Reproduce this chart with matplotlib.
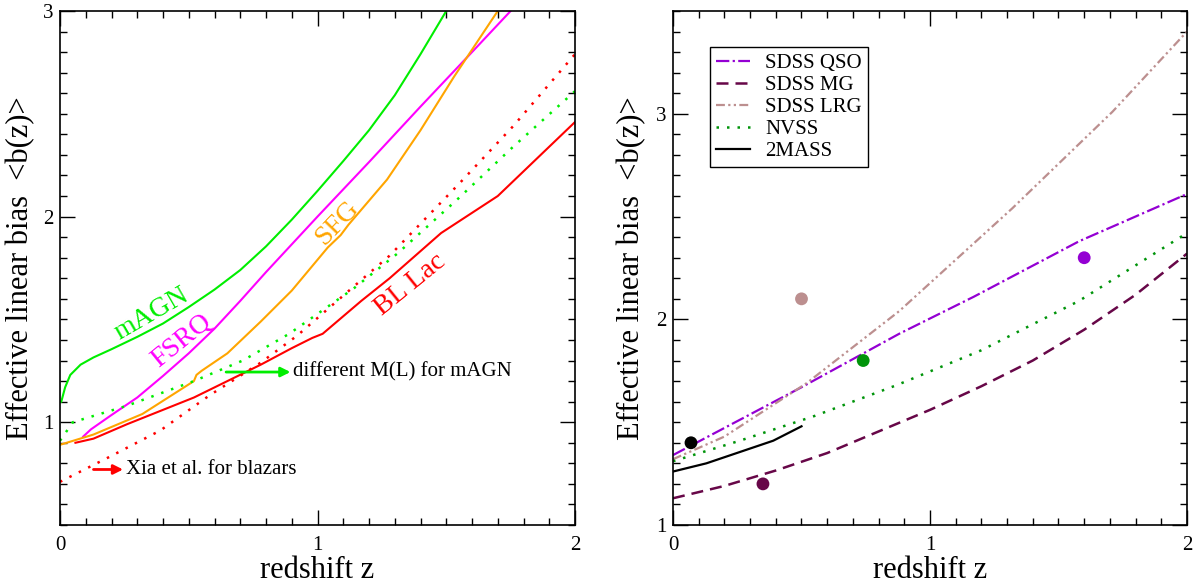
import numpy as np
import matplotlib
matplotlib.use('Agg')
import matplotlib.pyplot as plt
from matplotlib.ticker import MultipleLocator

plt.rcParams['font.family'] = ['Liberation Serif', 'DejaVu Serif']

# ---- left panel: effective bias of source populations ----
magn_z = [0.005, 0.02, 0.04, 0.08, 0.13, 0.2, 0.3, 0.4, 0.5, 0.6, 0.7, 0.8, 0.9, 1.0, 1.1, 1.2, 1.3, 1.4, 1.5]
magn_b = [1.10, 1.17, 1.23, 1.28, 1.315, 1.355, 1.415, 1.48, 1.56, 1.645, 1.74, 1.855, 1.985, 2.125, 2.27, 2.42, 2.59, 2.79, 3.0]

fsrq_z = [0.09, 0.12, 0.2, 0.3, 0.4, 0.5, 0.6, 0.7, 0.8, 0.9, 1.0, 1.2, 1.4, 1.6, 1.75]
fsrq_b = [0.93, 0.965, 1.035, 1.12, 1.225, 1.335, 1.455, 1.59, 1.73, 1.865, 2.0, 2.265, 2.535, 2.80, 3.0]

sfg_z = [0.0, 0.13, 0.32, 0.52, 0.53, 0.55, 0.65, 0.78, 0.9, 1.04, 1.09, 1.12, 1.27, 1.4, 1.53, 1.70]
sfg_b = [0.89, 0.94, 1.04, 1.2, 1.23, 1.25, 1.335, 1.49, 1.64, 1.85, 1.91, 1.96, 2.18, 2.42, 2.68, 3.0]

bllac_z = [0.06, 0.13, 0.26, 0.52, 0.78, 0.9, 0.98, 1.0, 1.02, 1.17, 1.28, 1.48, 1.70, 2.0]
bllac_b = [0.90, 0.92, 0.99, 1.12, 1.28, 1.36, 1.41, 1.42, 1.43, 1.59, 1.70, 1.92, 2.10, 2.46]

xia_z = [0.0, 0.19, 0.39, 0.58, 0.78, 0.92, 1.15, 1.28, 1.55, 1.76, 2.0]
xia_b = [0.71, 0.83, 0.96, 1.13, 1.29, 1.42, 1.67, 1.81, 2.16, 2.44, 2.79]

magn2_z = [0.0, 0.05, 0.26, 0.52, 0.71, 0.89, 1.14, 1.31, 1.54, 1.76, 2.0]
magn2_b = [0.91, 1.0, 1.08, 1.2, 1.30, 1.43, 1.65, 1.82, 2.08, 2.34, 2.61]

# ---- right panel: surveys ----
qso_z = [0.0, 0.25, 0.5, 0.88, 1.17, 1.58, 2.0]
qso_b = [1.34, 1.505, 1.67, 1.93, 2.11, 2.38, 2.61]

mg_z = [0.0, 0.2, 0.4, 0.6, 0.8, 1.0, 1.2, 1.4, 1.6, 1.8, 2.0]
mg_b = [1.13, 1.19, 1.265, 1.35, 1.455, 1.56, 1.675, 1.80, 1.95, 2.12, 2.32]

lrg_z = [0.0, 0.2, 0.52, 0.88, 1.32, 1.71, 2.0]
lrg_b = [1.32, 1.43, 1.69, 2.04, 2.54, 3.01, 3.40]

nvss_z = [0.0, 0.26, 0.55, 0.87, 1.2, 1.58, 2.0]
nvss_b = [1.31, 1.41, 1.53, 1.68, 1.85, 2.09, 2.42]

mass_z = [0.0, 0.13, 0.26, 0.39, 0.5]
mass_b = [1.26, 1.30, 1.355, 1.41, 1.48]

# measured points (z, b) for each survey
pt_names = ['2MASS', 'SDSS MG', 'SDSS LRG', 'NVSS', 'SDSS QSO']
pt_z = [0.07, 0.35, 0.50, 0.74, 1.60]
pt_b = [1.40, 1.20, 2.10, 1.80, 2.30]

c_magn = '#00ee00'
c_fsrq = '#ff00ff'
c_sfg = '#ffa500'
c_red = '#ff0000'
c_qso = '#9400d3'
c_mg = '#670748'
c_lrg = '#bc8f8f'
c_nvss = '#00940a'
pt_colors = ['black', c_mg, c_lrg, c_nvss, c_qso]

fig = plt.figure(figsize=(11.95, 5.85), dpi=100)
ax1 = fig.add_axes([60/1195, 1-525/585, 515/1195, 514/585])
ax2 = fig.add_axes([673/1195, 1-525/585, 514/1195, 514/585])

lw = 1.5
ax1.plot(magn_z, magn_b, color=c_magn, lw=lw)
ax1.plot(fsrq_z, fsrq_b, color=c_fsrq, lw=lw)
ax1.plot(sfg_z, sfg_b, color=c_sfg, lw=lw)
ax1.plot(bllac_z, bllac_b, color=c_red, lw=lw)
ax1.plot(xia_z, xia_b, color=c_red, lw=1.8, linestyle=(0, (1, 3.2)))
ax1.plot(magn2_z, magn2_b, color=c_magn, lw=1.8, linestyle=(0, (1, 3.2)))

lab = dict(fontsize=20, rotation_mode='anchor')
ax1.text(0.232, 1.402, 'mAGN', color=c_magn, rotation=30, ha='left', va='baseline', **lab)
ax1.text(0.385, 1.262, 'FSRQ', color=c_fsrq, rotation=39, ha='left', va='baseline', **lab)
ax1.text(1.077, 1.967, 'SFG', color=c_sfg, rotation=46, ha='center', va='center', **lab)
ax1.text(1.36, 1.667, 'BL Lac', color=c_red, rotation=39, ha='center', va='center', **lab)

ax1.annotate('', xy=(0.895, 1.244), xytext=(0.645, 1.244),
             arrowprops=dict(arrowstyle='-|>', color=c_magn, lw=2, mutation_scale=14, shrinkA=0, shrinkB=0))
ax1.text(0.905, 1.244, 'different M(L) for mAGN', fontsize=15, va='center')
ax1.annotate('', xy=(0.245, 0.77), xytext=(0.13, 0.77),
             arrowprops=dict(arrowstyle='-|>', color=c_red, lw=2, mutation_scale=14, shrinkA=0, shrinkB=0))
ax1.text(0.255, 0.77, 'Xia et al. for blazars', fontsize=15, va='center')

ax1.set_xlim(0, 2)
ax1.set_ylim(0.5, 3)

lw2 = 1.6
ax2.plot(qso_z, qso_b, color=c_qso, lw=lw2, linestyle=(0, (6, 1.5, 1, 1.5)), label='SDSS QSO')
ax2.plot(mg_z, mg_b, color=c_mg, lw=1.8, linestyle=(0, (4.8, 2.8)), label='SDSS MG')
ax2.plot(lrg_z, lrg_b, color=c_lrg, lw=lw2, linestyle=(0, (4, 1.5, 1, 1.5, 1, 1.5)), label='SDSS LRG')
ax2.plot(nvss_z, nvss_b, color=c_nvss, lw=1.8, linestyle=(0, (1, 3.2)), label='NVSS')
ax2.plot(mass_z, mass_b, color='black', lw=lw2, label='2MASS')
ax2.scatter(pt_z, pt_b, s=85, c=pt_colors, zorder=5, linewidths=0)

ax2.set_xlim(0, 2)
ax2.set_ylim(1, 3.5)
leg = ax2.legend(loc='upper left', bbox_to_anchor=(0.072, 0.93), borderaxespad=0,
                 fontsize=15, frameon=True, fancybox=False, framealpha=1,
                 edgecolor='black', labelspacing=0.12, handlelength=1.6,
                 handletextpad=0.75, borderpad=0.3)
leg.get_frame().set_linewidth(1.0)

for ax in (ax1, ax2):
    ax.xaxis.set_major_locator(MultipleLocator(1))
    ax.xaxis.set_minor_locator(MultipleLocator(0.1))
    ax.yaxis.set_major_locator(MultipleLocator(1))
    ax.yaxis.set_minor_locator(MultipleLocator(0.1))
    ax.tick_params(which='both', direction='in', top=True, right=True, width=1.0,
                   labelsize=15)
    ax.tick_params(which='major', length=11)
    ax.tick_params(which='minor', length=5)
    ax.tick_params(axis='x', pad=8)
    ax.tick_params(axis='y', pad=5)
    for s in ax.spines.values():
        s.set_linewidth(1.2)
    ax.set_xlabel('redshift z', fontsize=22)
    ax.set_ylabel('Effective linear bias  <b(z)>', fontsize=22)
    ax.xaxis.set_label_coords(0.5, -0.06)

ax1.yaxis.set_label_coords(-0.048, 0.5)
ax2.yaxis.set_label_coords(-0.052, 0.5)

fig.savefig('out.png', dpi=100)
